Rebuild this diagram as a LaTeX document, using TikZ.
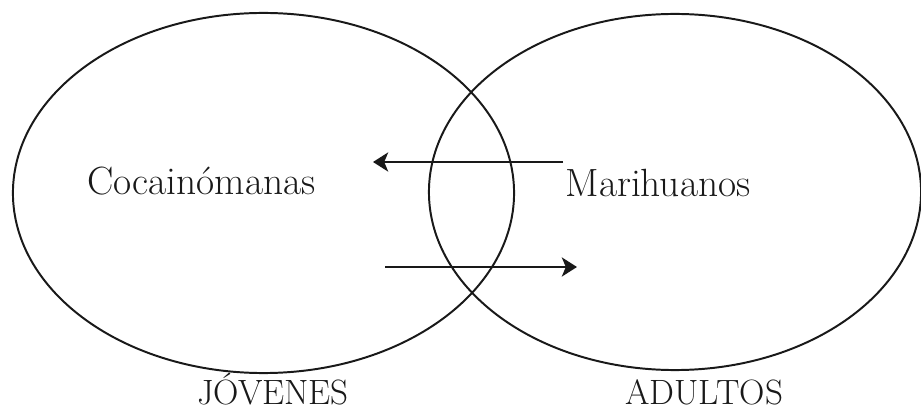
\documentclass[tikz,border=0pt]{standalone}
\usetikzlibrary{arrows.meta,shapes.geometric}

\tikzset{
  grupo/.style={draw=black!90, line width=1.4pt, ellipse, inner sep=0pt},
  etiqueta/.style={text=black!90, anchor=base, inner sep=0pt, font=\fontsize{28}{32}\selectfont},
  edad/.style={text=black!90, anchor=base, inner sep=0pt, font=\fontsize{25}{29}\selectfont},
  flecha/.style={draw=black!90, line width=1.4pt, -{Stealth[length=3.8mm, width=4.8mm, inset=1mm]}}
}

\begin{document}
\begin{tikzpicture}[x=0.025cm, y=-0.025cm]
    \useasboundingbox (0,0) rectangle (921,412);

    % Groups
    \node[grupo, minimum width=12.525cm, minimum height=9cm] (jov) at (263.5,193) {};
    \node[grupo, minimum width=12.3cm, minimum height=8.9cm] (adu) at (675,192) {};

    % Labels
    \node[etiqueta] (coca) at (201.5,195) {Cocainómanas};
    \node[etiqueta] (mari) at (658,197) {Marihuanos};
    \node[edad] (tjov) at (273,404) {JÓVENES};
    \node[edad] (tadu) at (704,404) {ADULTOS};

    % Flow
    \coordinate (a1) at (563,162);
    \coordinate (a2) at (373,162);
    \coordinate (b1) at (385,267);
    \coordinate (b2) at (577,267);
    \draw[flecha] (a1) -- (a2);
    \draw[flecha] (b1) -- (b2);
\end{tikzpicture}
\end{document}
